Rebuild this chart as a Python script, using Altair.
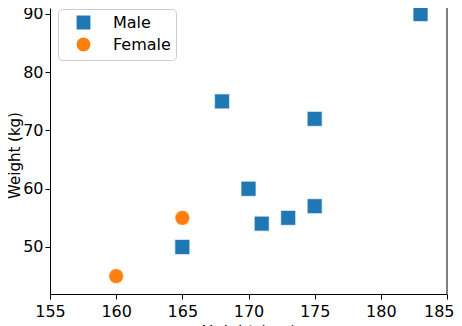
import altair as alt
import pandas as pd

male_height = [165, 168, 170, 171, 173, 175, 175, 183]
male_weight = [50, 75, 60, 54, 55, 57, 72, 90]
female_height = [160, 165]
female_weight = [45, 55]
genders = ["Male", "Female"]
colors = ["#1f77b4", "#ff7f0e"]
shapes = ["square", "circle"]

df = pd.DataFrame({
    "Height": male_height + female_height,
    "Weight": male_weight + female_weight,
    "Gender": ["Male"] * len(male_height) + ["Female"] * len(female_height),
})

FONT = "DejaVu Sans"
FS = 16

points = alt.Chart(df).mark_point(filled=True, size=225, opacity=1,
                                   stroke="white", strokeWidth=1.2, strokeOpacity=0.6).encode(
    x=alt.X("Height:Q", scale=alt.Scale(domain=[155, 185], nice=False, zero=False),
            axis=alt.Axis(values=[155, 160, 165, 170, 175, 180, 185], title="Height (cm)",
                          grid=False, tickSize=5, tickColor="black", domainColor="black",
                          labelColor="black", labelFontSize=FS, labelFont=FONT,
                          labelAlign={"condition": {"test": "datum.value >= 185", "value": "right"}, "value": "center"},
                          labelOffset={"condition": {"test": "datum.value >= 185", "value": 7}, "value": 0},
                          labelPadding=4, titleFontSize=FS, titleFont=FONT, titleFontWeight="normal",
                          titleColor="black", titlePadding=4, labelFlush=False)),
    y=alt.Y("Weight:Q", scale=alt.Scale(domain=[41.93, 91.03], nice=False, zero=False),
            axis=alt.Axis(values=[50, 60, 70, 80, 90], title="Weight (kg)",
                          grid=False, tickSize=5, tickColor="black", domainColor="black",
                          labelColor="black", labelFontSize=FS, labelFont=FONT,
                          labelPadding=2, titleFontSize=15, titleFont=FONT, titleFontWeight="normal",
                          titleColor="black", titleX=-30.5, titleY=147, titleBaseline="alphabetic")),
    color=alt.Color("Gender:N", scale=alt.Scale(domain=genders, range=colors),
                    legend=alt.Legend(title=None, orient="none", legendX=8, legendY=1,
                                      padding=5, symbolOffset=12, labelOffset=21,
                                      rowPadding=1, labelFontSize=FS, labelFont=FONT,
                                      labelColor="black", symbolSize=225,
                                      strokeColor="#cccccc", fillColor="white",
                                      cornerRadius=4, symbolStrokeColor="white",
                                      symbolStrokeWidth=1.2)),
    shape=alt.Shape("Gender:N", scale=alt.Scale(domain=genders, range=shapes)),
)

border = alt.Chart().mark_rule(color="black", strokeWidth=1).encode(x=alt.datum(185))

chart = alt.layer(points, border).properties(
    width=397, height=286,
    autosize=alt.AutoSizeParams(type="none"),
    padding={"left": 42, "top": 0, "right": 7, "bottom": 32},
).configure_view(stroke=None)

chart.save("out.html", embed_options={"renderer": "svg", "actions": False})
